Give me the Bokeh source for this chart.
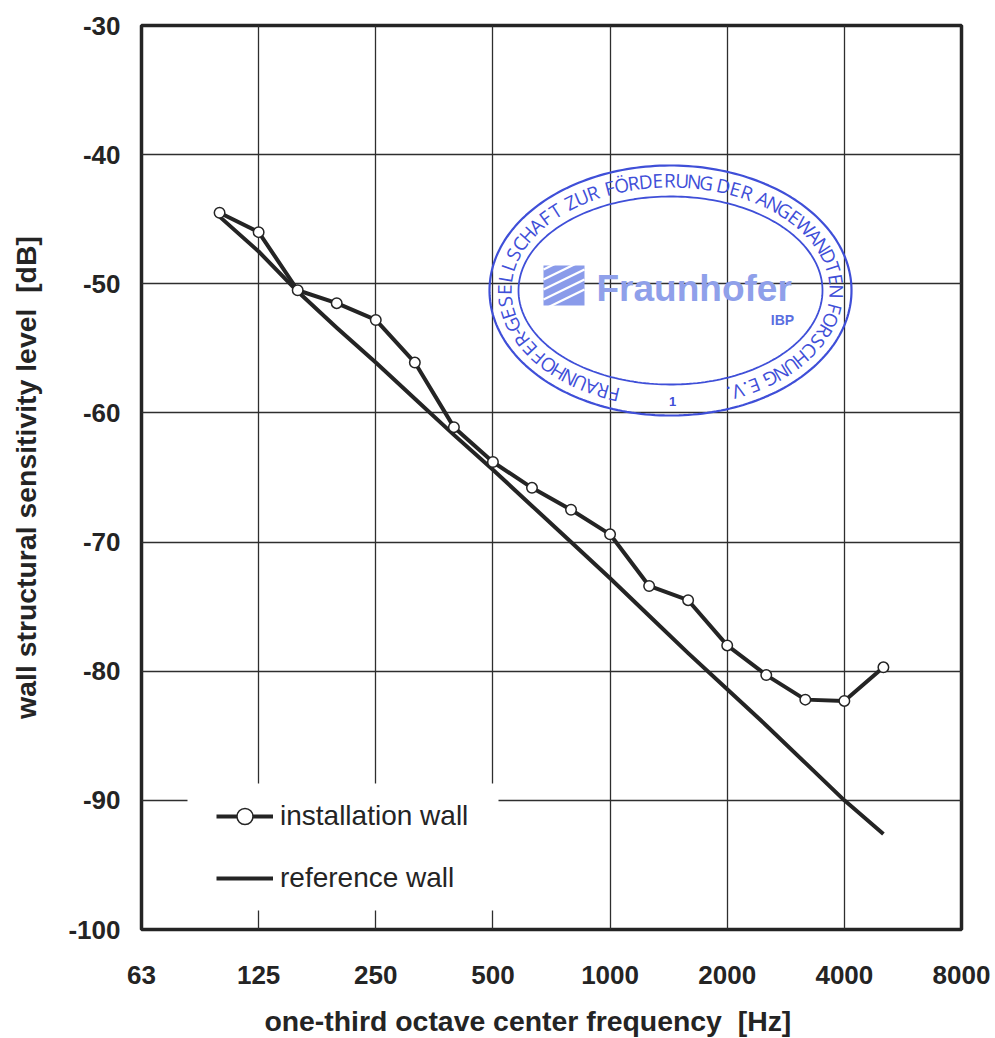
import numpy as np
from bokeh.embed import file_html
from bokeh.resources import INLINE
from bokeh.plotting import figure
from bokeh.models import FixedTicker, Legend, LegendItem, BoxAnnotation, Range1d
from bokeh.core.properties import value

freq = [99.2, 125, 157.5, 198.4, 250, 315, 396.9, 500, 630, 793.7, 1000, 1260, 1587, 2000, 2520, 3175, 4000, 5040]
installation_wall = [-44.5, -46.0, -50.5, -51.5, -52.8, -56.1, -61.1, -63.8, -65.8, -67.5, -69.4, -73.4, -74.5, -78.0, -80.3, -82.2, -82.3, -79.7]
reference_wall = [-44.8, -47.5, -50.6, -53.4, -56.1, -58.9, -61.7, -64.4, -67.2, -70.0, -72.8, -75.7, -78.6, -81.4, -84.2, -87.1, -90.0, -92.6]
x_ticks = [62.5, 125, 250, 500, 1000, 2000, 4000, 8000]
x_tick_labels = ["63", "125", "250", "500", "1000", "2000", "4000", "8000"]
y_ticks = [-30, -40, -50, -60, -70, -80, -90, -100]
stamp_text = "FRAUNHOFER-GESELLSCHAFT ZUR FÖRDERUNG DER ANGEWANDTEN FORSCHUNG E.V."

INK = "#242424"
BLUE = "#3f4fd8"
FRAME_L, FRAME_T, FRAME_W, FRAME_H = 141, 25, 820, 904


def xd(px):
    return 62.5 * 2 ** ((np.asarray(px, float) - FRAME_L) * 7 / FRAME_W)


def yd(py):
    return -30 - (np.asarray(py, float) - FRAME_T) * 70 / FRAME_H


p = figure(width=993, height=1036, x_axis_type="log", output_backend="svg", toolbar_location=None,
           x_range=Range1d(62.5, 8000), y_range=Range1d(-100, -30),
           frame_width=FRAME_W, frame_height=FRAME_H,
           min_border_left=FRAME_L, min_border_top=FRAME_T, min_border_right=32, min_border_bottom=10,
           background_fill_color="white", border_fill_color="white")
p.outline_line_color = INK
p.outline_line_width = 3.5

p.xaxis.ticker = FixedTicker(ticks=x_ticks, minor_ticks=[])
p.yaxis.ticker = FixedTicker(ticks=y_ticks, minor_ticks=[])
p.xaxis.major_label_overrides = dict(zip(x_ticks, x_tick_labels))
p.yaxis.major_label_overrides = {v: str(v) for v in y_ticks}
p.xgrid.ticker = FixedTicker(ticks=x_ticks, minor_ticks=[])
p.ygrid.ticker = FixedTicker(ticks=y_ticks, minor_ticks=[])
for g in (p.xgrid, p.ygrid):
    g.grid_line_color = "#2e2e2e"
    g.grid_line_width = 1.3
for ax in (p.xaxis, p.yaxis):
    ax.axis_line_color = None
    ax.major_tick_line_color = None
    ax.minor_tick_line_color = None
    ax.major_label_text_font = "Liberation Sans"
    ax.major_label_text_font_style = "bold"
    ax.major_label_text_font_size = "26px"
    ax.major_label_text_color = INK
    ax.axis_label_text_font = "Liberation Sans"
    ax.axis_label_text_font_style = "bold"
    ax.axis_label_text_font_size = "28.4px"
    ax.axis_label_text_color = INK
# trailing no-break spaces move the centred title left of the frame's centre, as in the reference
p.xaxis.axis_label = "one-third octave center frequency\u00a0\u00a0[Hz]" + "\u00a0" * 6
p.yaxis.axis_label = "wall structural sensitivity level\u00a0\u00a0[dB]"
p.xaxis.major_label_standoff = 30
p.xaxis.axis_label_standoff = 18
p.yaxis.major_label_standoff = 15
p.yaxis.axis_label_standoff = 23

# stamp
cx, cy = 670, 290
t = np.linspace(0, 2 * np.pi, 240)
for rx, ry, w in ((181, 125, 2.2), (152, 94, 1.8)):
    p.line(xd(cx + rx * np.cos(t)), yd(cy - ry * np.sin(t)), line_color=BLUE, line_width=w)

rx, ry = 166, 110
tt = np.radians(np.linspace(252.5, -70, 3000))
ax_x, ax_y = rx * np.cos(tt), ry * np.sin(tt)
arc = np.concatenate([[0], np.cumsum(np.hypot(np.diff(ax_x), np.diff(ax_y)))])
wid = np.array([0.42 if c in "I.- " else (1.25 if c in "MW" else 1.0) for c in stamp_text])
pos = (np.cumsum(wid) - wid / 2) / wid.sum() * arc[-1]
tc = np.interp(pos, arc, tt)
p.text(xd(cx + rx * np.cos(tc)), yd(cy - ry * np.sin(tc)), text=list(stamp_text),
       angle=np.arctan2(-ry * np.cos(tc), rx * np.sin(tc)),
       text_font=value("Open Sans"), text_font_size="19px", text_color=BLUE,
       text_align="center", text_baseline="middle")

# logo
p.quad(left=xd(543), right=xd(584), top=yd(265), bottom=yd(305), fill_color="#8a9bea", line_color=None)
for off in (0, 10, 20, 30, 40):
    p.line(xd([543, 584]), yd([283 + off - 14, 268 + off - 14 - 5]), line_color="white", line_width=2.2)
p.text(xd([596]), yd([288]), text=["Fraunhofer"], text_font=value("Liberation Sans"), text_font_style="bold",
       text_font_size="37px", text_color="#8fa0ea", text_align="left", text_baseline="middle")
p.text(xd([782]), yd([319]), text=["IBP"], text_font=value("Liberation Sans"), text_font_style="bold",
       text_font_size="14px", text_color="#5a6ee0", text_align="center", text_baseline="middle")
p.text(xd([672]), yd([401]), text=["1"], text_font=value("Liberation Sans"), text_font_style="bold",
       text_font_size="13px", text_color=BLUE, text_align="center", text_baseline="middle")

# legend mask
p.add_layout(BoxAnnotation(left=float(xd(187)), right=float(xd(498)), top=float(yd(783)), bottom=float(yd(910)),
                           fill_color="white", fill_alpha=1, line_color=None))

ref = p.line(freq, reference_wall, line_color=INK, line_width=4, line_join="round")
inst = p.line(freq, installation_wall, line_color=INK, line_width=4, line_join="round")
pts = p.scatter(freq, installation_wall, marker="circle", size=10.5, fill_color="white", line_color=INK, line_width=1.5)

legend = Legend(items=[LegendItem(label="installation wall", renderers=[inst, pts]),
                       LegendItem(label="reference wall", renderers=[ref])],
                location=(75, 31), orientation="vertical", margin=0, padding=13,
                background_fill_alpha=0, border_line_color=None,
                glyph_width=57, glyph_height=40, label_height=40, spacing=22, label_standoff=7,
                label_text_font="Liberation Sans", label_text_font_size="28px", label_text_color=INK,
                label_text_baseline="middle")
p.add_layout(legend)

open("out.html", "w").write(file_html(p, INLINE))
